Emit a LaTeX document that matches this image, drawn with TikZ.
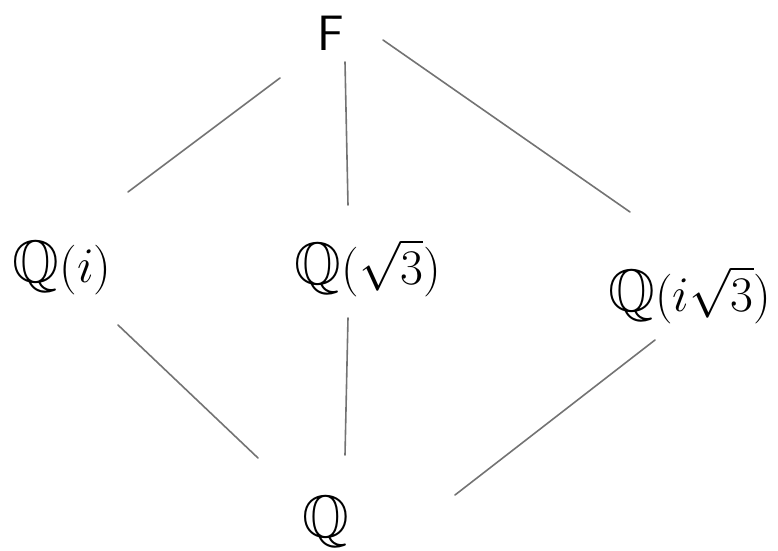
\documentclass[tikz,border=0pt]{standalone}
\usepackage{amssymb}
\usetikzlibrary{calc}
\begin{document}
\begin{tikzpicture}[x=0.5pt,y=-0.5pt,
  lbl/.style={inner sep=0pt, font=\fontsize{30}{34}\selectfont},
  edge/.style={draw=black!55, line width=0.8pt, line cap=round}]
\useasboundingbox (0,0) rectangle (778,551);
\node[lbl] (F) at (331,33) {$\mathsf{F}$};
\node[lbl] (Qi) at (62,268) {$\mathbb{Q}(i)$};
\node[lbl] (Qs) at (368,268) {$\mathbb{Q}(\sqrt{3})$};
\node[lbl] (Qis) at (690,295) {$\mathbb{Q}(i\sqrt{3})$};
\node[lbl] (Q) at (326,522) {$\mathbb{Q}$};
\draw[edge] ($(F)+(-51,45)$) -- ($(Qi)+(66,-76)$);
\draw[edge] ($(F)+(14,29)$) -- ($(Qs)+(-20,-63)$);
\draw[edge] ($(F)+(52,7)$) -- ($(Qis)+(-60,-83)$);
\draw[edge] ($(Qi)+(56,57)$) -- ($(Q)+(-68,-64)$);
\draw[edge] ($(Qs)+(-20,50)$) -- ($(Q)+(19,-67)$);
\draw[edge] ($(Qis)+(-35,45)$) -- ($(Q)+(129,-27)$);
\end{tikzpicture}
\end{document}
